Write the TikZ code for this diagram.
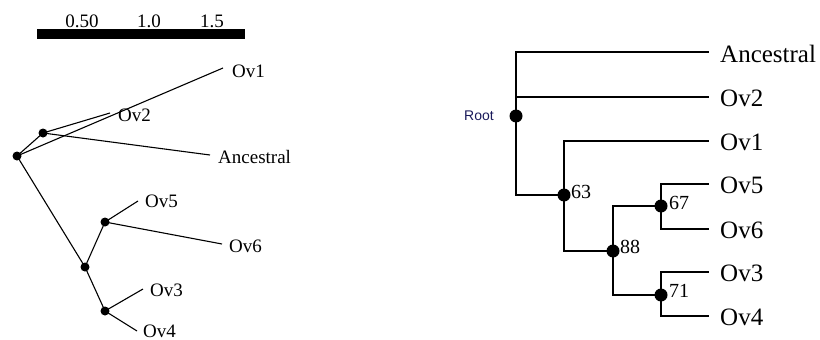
\documentclass[tikz,border=0pt]{standalone}
\usepackage{fontspec}
\setmainfont{Liberation Serif}
\newfontfamily\rootfont{Liberation Sans}
\definecolor{rootblue}{RGB}{25,25,90}
\begin{document}
\begin{tikzpicture}[x=1pt,y=-1pt,
  lbranch/.style={line width=1.1pt},
  rbranch/.style={line width=1.4pt},
  ldot/.style={circle,fill=black,inner sep=0pt,minimum size=9pt},
  rdot/.style={circle,fill=black,inner sep=0pt,minimum size=13pt},
  llabel/.style={anchor=west,inner sep=0pt,font=\fontsize{19}{19}\selectfont},
  rlabel/.style={anchor=west,inner sep=0pt,font=\fontsize{25}{25}\selectfont},
  suplabel/.style={anchor=west,inner sep=0pt,font=\fontsize{20}{20}\selectfont},
  scalelabel/.style={inner sep=0pt,font=\fontsize{19}{19}\selectfont},
  scalebar/.style={fill=black,draw=none,inner sep=0pt,minimum width=208pt,minimum height=10pt}]
\useasboundingbox (0,0) rectangle (820,340);
% ---------- left: unrooted tree with scale bar ----------
\node[scalebar] (bar) at (141,34) {};
\node[scalelabel] (s1) at (82,21) {0.50};
\node[scalelabel] (s2) at (149,21) {1.0};
\node[scalelabel] (s3) at (212,21) {1.5};

\node[ldot] (lroot) at (17,156) {};
\node[ldot] (la) at (43,133) {};
\node[ldot] (lb) at (85,267) {};
\node[ldot] (lc) at (105,222) {};
\node[ldot] (ld) at (105,311) {};

\coordinate (eOv1) at (223,68);
\coordinate (eOv2) at (110,113);
\coordinate (eAnc) at (210,155);
\coordinate (eOv5) at (138,201);
\coordinate (eOv6) at (222,244);
\coordinate (eOv3) at (143,289);
\coordinate (eOv4) at (137,331);

\node[llabel] (tOv1) at (232,71) {Ov1};
\node[llabel] (tOv2) at (118,115) {Ov2};
\node[llabel] (tAnc) at (218,157) {Ancestral};
\node[llabel] (tOv5) at (145,201) {Ov5};
\node[llabel] (tOv6) at (229,246) {Ov6};
\node[llabel] (tOv3) at (150,290) {Ov3};
\node[llabel] (tOv4) at (143,331) {Ov4};

\draw[lbranch] (lroot.center) -- (la.center);
\draw[lbranch] (lroot.center) -- (eOv1);
\draw[lbranch] (la.center) -- (eOv2);
\draw[lbranch] (la.center) -- (eAnc);
\draw[lbranch] (lroot.center) -- (lb.center);
\draw[lbranch] (lb.center) -- (lc.center);
\draw[lbranch] (lb.center) -- (ld.center);
\draw[lbranch] (lc.center) -- (eOv5);
\draw[lbranch] (lc.center) -- (eOv6);
\draw[lbranch] (ld.center) -- (eOv3);
\draw[lbranch] (ld.center) -- (eOv4);

% ---------- right: rooted cladogram ----------
\node[rdot] (rroot) at (516,116) {};
\node[rdot] (n63) at (564,195) {};
\node[rdot] (n88) at (613,251) {};
\node[rdot] (n67) at (661,206) {};
\node[rdot] (n71) at (661,295) {};

\node[anchor=east,inner sep=0pt,text=rootblue,font=\rootfont\fontsize{14}{14}\selectfont] (troot) at (494,116) {Root};
\node[suplabel] (t63) at (571,192) {63};
\node[suplabel] (t88) at (620,247) {88};
\node[suplabel] (t67) at (669,203) {67};
\node[suplabel] (t71) at (669,291) {71};

\coordinate (rAnc) at (709,52);
\coordinate (rOv2) at (709,97);
\coordinate (rOv1) at (709,141);
\coordinate (rOv5) at (709,184);
\coordinate (rOv6) at (709,229);
\coordinate (rOv3) at (709,272);
\coordinate (rOv4) at (709,316);

\node[rlabel] (uAnc) at (720,54) {Ancestral};
\node[rlabel] (uOv2) at (720,98) {Ov2};
\node[rlabel] (uOv1) at (720,142) {Ov1};
\node[rlabel] (uOv5) at (720,185) {Ov5};
\node[rlabel] (uOv6) at (720,230) {Ov6};
\node[rlabel] (uOv3) at (720,273) {Ov3};
\node[rlabel] (uOv4) at (720,317) {Ov4};

\draw[rbranch] (rroot.center) |- (rAnc);
\draw[rbranch] (rroot.center) |- (rOv2);
\draw[rbranch] (rroot.center) |- (n63.center);
\draw[rbranch] (n63.center) |- (rOv1);
\draw[rbranch] (n63.center) |- (n88.center);
\draw[rbranch] (n88.center) |- (n67.center);
\draw[rbranch] (n88.center) |- (n71.center);
\draw[rbranch] (n67.center) |- (rOv5);
\draw[rbranch] (n67.center) |- (rOv6);
\draw[rbranch] (n71.center) |- (rOv3);
\draw[rbranch] (n71.center) |- (rOv4);
\end{tikzpicture}
\end{document}
